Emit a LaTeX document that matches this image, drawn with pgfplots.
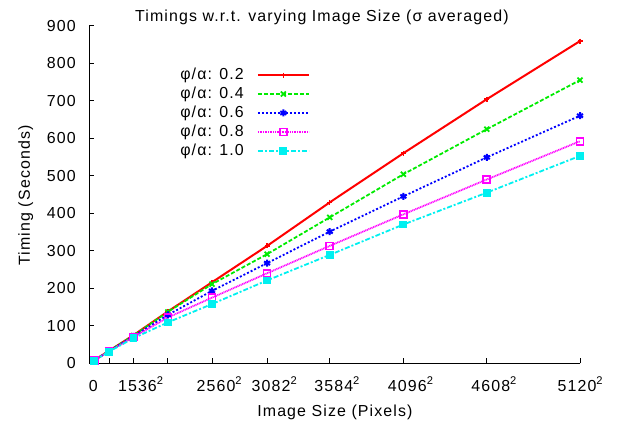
\documentclass[border=0pt]{standalone}
\usepackage{fontspec}
\setmainfont{Liberation Sans}[LetterSpace=7]
\usepackage{pgfplots}
\usepackage{pgfplotstable}
\pgfplotsset{compat=1.18}
\definecolor{cred}{RGB}{255,0,0}
\definecolor{cgreen}{RGB}{0,235,0}
\definecolor{cblue}{RGB}{0,0,255}
\definecolor{cmag}{RGB}{255,0,255}
\definecolor{ccyan}{RGB}{0,240,240}
\pgfplotstableread{
x r g b m c
262144 8 8 8 8 7
1048576 33 33 32 32 31
2359296 75 74 72 70 67
4194304 138 137 129 122 109
6553600 216 211 193 175 158
9498724 313 291 267 240 221
12845056 429 389 351 313 289
16777216 560 504 445 397 370
21233664 704 624 549 490 455
26214400 859 755 660 592 553
}\data
\begin{document}
\fontsize{16}{19}\selectfont
\begin{tikzpicture}
\begin{axis}[
  scale only axis, width=490.7bp, height=337.6bp,
  at={(0,0)}, anchor=south west,
  xmin=0, xmax=26214400, ymin=0, ymax=900,
  enlargelimits=false,
  axis x line=bottom, axis y line=left,
  axis line style={-, line width=0.8bp},
  tick align=inside, major tick length=5bp,
  tick style={black, line width=0.8bp},
  scaled ticks=false,
  /pgf/number format/assume math mode=true,
  xtick={0,1048576,2359296,4194304,6553600,9498724,12845056,16777216,21233664,26214400},
  xticklabels={0,{},1536\rlap{\textsuperscript{2}},{},2560\rlap{\textsuperscript{2}},3082\rlap{\textsuperscript{2}},3584\rlap{\textsuperscript{2}},4096\rlap{\textsuperscript{2}},4608\rlap{\textsuperscript{2}},\hspace*{-14bp}5120\rlap{\textsuperscript{2}}},
  xticklabel style={anchor=base, yshift=-27.7bp, xshift=4bp},
  ytick={0,100,...,900},
  yticklabel style={xshift=-8bp},
  title={Timings w.r.t. varying Image Size (σ averaged)},
  title style={at={(axis description cs:0.474,0.994)}, anchor=base},
  xlabel={Image Size (Pixels)},
  xlabel style={at={(axis description cs:0.5005,-0.159)}, anchor=base},
  ylabel={Timing (Seconds)},
  ylabel style={at={(axis description cs:-0.121,0.497)}, anchor=base},
  legend style={at={(axis description cs:0.185,0.875)}, anchor=north west,
    draw=none, fill=none, inner sep=0pt, row sep=5bp, column sep=13bp,
    nodes={inner sep=0pt}},
  legend plot pos=right,
  legend cell align=left,
  legend image code/.code={\draw[mark repeat=2,mark phase=2,#1] plot coordinates {(0bp,0bp) (25.5bp,0bp) (51bp,0bp)};},
]
\addplot[cred, line width=2bp, mark=+, mark size=2.5bp, mark options={solid, line width=1.5bp}] table[x=x,y=r] {\data};
\addlegendentry{φ/α: 0.2}
\addplot[cgreen, line width=1.8bp, dash pattern=on 4bp off 2bp, mark=x, mark size=3.5bp, mark options={solid, line width=1.8bp}] table[x=x,y=g] {\data};
\addlegendentry{φ/α: 0.4}
\addplot[cblue, line width=1.8bp, dash pattern=on 2bp off 2bp, mark=asterisk, mark size=3.5bp, mark options={solid, line width=2bp}] table[x=x,y=b] {\data};
\addlegendentry{φ/α: 0.6}
\addplot[cmag, line width=1.8bp, dash pattern=on 1bp off 0.7bp, mark=square, mark size=3.5bp, mark options={solid, line width=1.6bp}] table[x=x,y=m] {\data};
\addlegendentry{φ/α: 0.8}
\addplot[ccyan, line width=1.8bp, dash pattern=on 5bp off 2bp on 2bp off 2bp, mark=square*, mark size=3bp, mark options={solid}] table[x=x,y=c] {\data};
\addlegendentry{φ/α: 1.0}
\end{axis}
\pgfresetboundingbox
\path[use as bounding box] (-89.3bp,-62.7bp) rectangle (529.7bp,363.3bp);
\end{tikzpicture}
\end{document}
